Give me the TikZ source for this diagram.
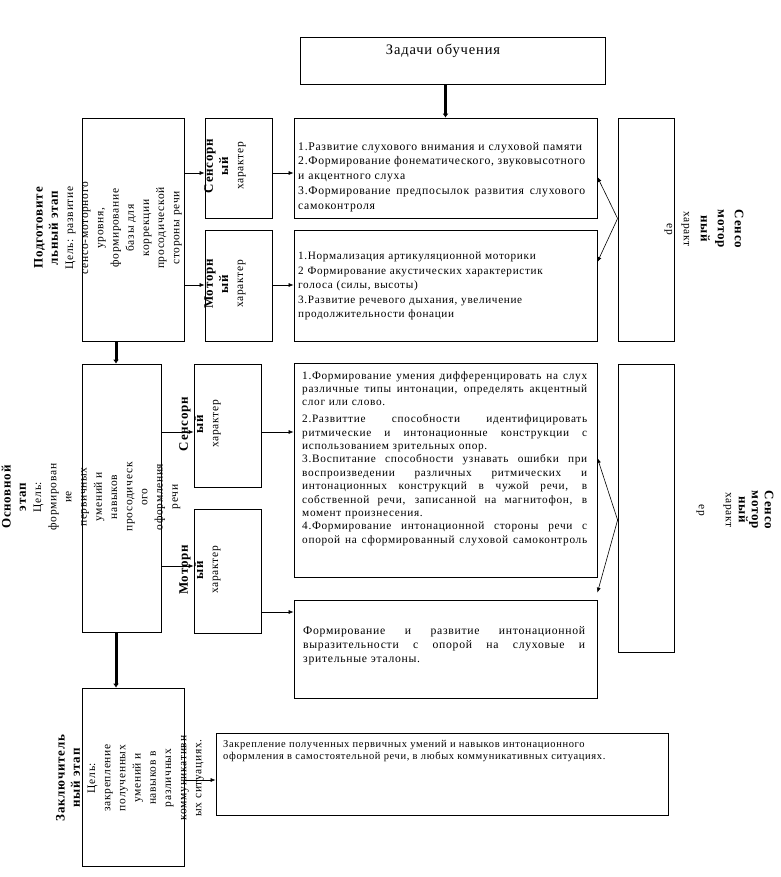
\documentclass[tikz,border=0pt]{standalone}
\usepackage{fontspec}
\setmainfont{Liberation Serif}[LetterSpace=6]
\usetikzlibrary{arrows.meta,calc}
\newcommand{\hd}[1]{{\fontsize{13}{15}\selectfont\bfseries #1}}
\newcommand{\jl}[2][285pt]{\leavevmode\hbox to #1{\spaceskip=\fontdimen2\font plus 1fil\relax #2}}
\tikzset{
    x=1pt,y=-1pt,
    box/.style={draw, rectangle, inner sep=0pt, line width=0.8pt},
    txt/.style={inner sep=0pt, anchor=north west, align=left, font=\fontsize{11.7}{14.7}\selectfont},
    vtxt/.style={inner sep=0pt, align=center, font=\fontsize{11.5}{15.2}\selectfont},
    link/.style={-{Latex[length=5pt,width=4pt]}, line width=0.6pt},
    bigarrow/.style={-{Latex[length=4pt,width=6pt]}, line width=3pt}
}
\begin{document}
\begin{tikzpicture}
    \useasboundingbox (0,0) rectangle (780,877);
    % boxes
    \node[box, minimum width=305pt, minimum height=47pt] (z) at (452.5,60.5) {};
    \node[box, minimum width=303pt, minimum height=100pt] (a1) at (445.5,168) {};
    \node[box, minimum width=303pt, minimum height=111pt] (a2) at (445.5,285.5) {};
    \node[box, minimum width=56pt, minimum height=223pt] (r1) at (646,229.5) {};
    \node[box, minimum width=102pt, minimum height=223pt] (l1) at (133,229.5) {};
    \node[box, minimum width=67pt, minimum height=100pt] (s1) at (238.5,168) {};
    \node[box, minimum width=67pt, minimum height=111pt] (m1) at (238.5,285.5) {};
    \node[box, minimum width=79pt, minimum height=268pt] (l2) at (121.5,498) {};
    \node[box, minimum width=67pt, minimum height=123pt] (s2) at (227.5,425.5) {};
    \node[box, minimum width=67pt, minimum height=124pt] (m2) at (227.5,571) {};
    \node[box, minimum width=303pt, minimum height=214pt] (b1) at (445.5,470) {};
    \node[box, minimum width=303pt, minimum height=98pt] (b2) at (445.5,649) {};
    \node[box, minimum width=56pt, minimum height=288pt] (r2) at (646,508) {};
    \node[box, minimum width=102pt, minimum height=178pt] (l3) at (133,777) {};
    \node[box, minimum width=452pt, minimum height=82pt] (c) at (442,774) {};

    % texts
    \node[font=\fontsize{14.5}{16}\selectfont, anchor=base, inner sep=0pt] (zt) at (443,55) {Задачи обучения};
    \node[txt, text width=289pt] (a1t) at (298,142) {\mbox{1.Развитие слухового внимания и слуховой памяти}\\
        \jl[287pt]{2.Формирование фонематического, звуковысотного}\\
        и акцентного слуха\\
        \jl[287pt]{3.Формирование предпосылок развития слухового}\\
        самоконтроля};
    \node[txt, text width=289pt, font=\fontsize{11.2}{14.5}\selectfont] (a2t) at (298,252) {\mbox{1.Нормализация артикуляционной моторики}\\
        \mbox{2 Формирование акустических характеристик}\\
        голоса (силы, высоты)\\
        \mbox{3.Развитие речевого дыхания, увеличение}\\
        продолжительности фонации};
    \node[txt, text width=285pt, font=\fontsize{11.3}{13.4}\selectfont] (b1t) at (302,371) {\jl{1.Формирование умения дифференцировать на слух}\\
        \jl{различные типы интонации, определять акцентный}\\
        слог или слово.\\[3.5pt]
        \jl{2.Развиттие способности идентифицировать}\\
        \jl{ритмические и интонационные конструкции с}\\
        использованием зрительных опор.\\
        \jl{3.Воспитание способности узнавать ошибки при}\\
        \jl{воспроизведении различных ритмических и}\\
        \jl{интонационных конструкций в чужой речи, в}\\
        \jl{собственной речи, записанной на магнитофон, в}\\
        момент произнесения.\\
        \jl{4.Формирование интонационной стороны речи с}\\
        \jl{опорой на сформированный слуховой самоконтроль}};
    \node[txt, text width=282pt, font=\fontsize{11.7}{14}\selectfont] (b2t) at (303,626) {\jl[282pt]{Формирование и развитие интонационной}\\
        \jl[282pt]{выразительности с опорой на слуховые и}\\
        зрительные эталоны.};
    \node[txt, font=\fontsize{10.5}{12.5}\selectfont] (ct) at (223,740) {Закрепление полученных первичных умений и навыков интонационного\\
        оформления в самостоятельной речи, в любых коммуникативных ситуациях.};

    % rotated texts
    \node[vtxt, rotate=90] (l1t) at (108,228) {\hd{Подготовите}\\ \hd{льный этап}\\ Цель: развитие\\ сенсо-моторного\\ уровня,\\ формирование\\ базы для\\ коррекции\\ просодической\\ стороны речи};
    \node[vtxt, rotate=90] (s1t) at (225,166) {\hd{Сенсорн}\\ \hd{ый}\\ характер};
    \node[vtxt, rotate=90] (m1t) at (225,284) {\hd{Моторн}\\ \hd{ый}\\ характер};
    \node[vtxt, rotate=90] (l2t) at (91,497) {\hd{Основной}\\ \hd{этап}\\ Цель:\\ формирован\\ ие\\ первичных\\ умений и\\ навыков\\ просодическ\\ ого\\ оформления\\ речи};
    \node[vtxt, rotate=90] (s2t) at (200,424) {\hd{Сенсорн}\\ \hd{ый}\\ характер};
    \node[vtxt, rotate=90] (m2t) at (200,570) {\hd{Моторн}\\ \hd{ый}\\ характер};
    \node[vtxt, rotate=90] (l3t) at (130,778) {\hd{Заключитель}\\ \hd{ный этап}\\ Цель:\\ закрепление\\ полученных\\ умений и\\ навыков в\\ различных\\ коммуникативн\\ ых ситуациях.};
    \node[vtxt, rotate=-90, font=\fontsize{11.5}{17}\selectfont] (r1t) at (704,229) {\hd{Сенсо}\\ \hd{мотор}\\ \hd{ный}\\ характ\\ ер};
    \node[vtxt, rotate=-90, font=\fontsize{11.5}{13}\selectfont] (r2t) at (735,510) {\hd{Сенсо}\\ \hd{мотор}\\ \hd{ный}\\ характ\\[14pt] ер};

    % levels of the connectors
    \coordinate (h1) at (0,173);
    \coordinate (h2) at (0,285);
    \coordinate (h3) at (0,432);
    \coordinate (h4) at (0,566);
    \coordinate (h5) at (0,612);
    \coordinate (h6) at (0,780);
    \coordinate (v1) at (116,0);

    \draw[bigarrow] (z.south -| a1.north) -- (a1.north);
    \draw[bigarrow] (l1.south -| v1) -- (l2.north -| v1);
    \draw[bigarrow] (l2.south -| v1) -- (l3.north -| v1);

    \draw[link] (l1.east |- h1) -- (s1.west |- h1);
    \draw[link] (l1.east |- h2) -- (m1.west |- h2);
    \draw[link] (s1.east |- h1) -- (a1.west |- h1);
    \draw[link] (m1.east |- h2) -- (a2.west |- h2);
    \draw[link] (l2.east |- h3) -- (s2.west |- h3);
    \draw[link] (l2.east |- h4) -- (m2.west |- h4);
    \draw[link] (s2.east |- h3) -- (b1.west |- h3);
    \draw[link] (m2.east |- h5) -- (b2.west |- h5);
    \draw[link] (l3.east |- h6) -- (c.west |- h6);

    \coordinate (rv1) at ($(r1.west)+(0,-11)$);
    \coordinate (rv2) at ($(r2.west)+(0,12)$);
    \draw[link] (rv1) -- ($(a1.east)+(0,9)$);
    \draw[link] (rv1) -- ($(a2.east)+(0,-23.5)$);
    \draw[link] (rv2) -- ($(b1.east)+(0,-12)$);
    \draw[link] (rv2) -- ($(b2.north east)+(0,-7)$);
\end{tikzpicture}
\end{document}
